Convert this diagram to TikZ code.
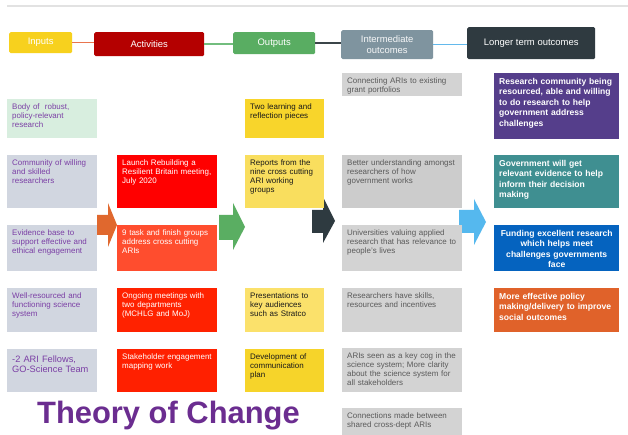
\documentclass[tikz,border=0pt]{standalone}
\usepackage{fontspec}
\setmainfont{Liberation Sans}
\definecolor{inYellow}{HTML}{F7D11E}
\definecolor{actRed}{HTML}{B40000}
\definecolor{outGreen}{HTML}{59AD62}
\definecolor{intGrey}{HTML}{7F949F}
\definecolor{longDark}{HTML}{2F3A40}
\definecolor{lineOrange}{HTML}{E9754E}
\definecolor{lineGreen}{HTML}{72BD7E}
\definecolor{lineDark}{HTML}{3B4549}
\definecolor{lineBlue}{HTML}{63B9EC}
\definecolor{topGrey}{HTML}{E2E2E2}
\definecolor{inGreenBox}{HTML}{D8EEDF}
\definecolor{inGreyBox}{HTML}{D1D6E0}
\definecolor{inText}{HTML}{7B3FA5}
\definecolor{redA}{HTML}{FF0000}
\definecolor{redB}{HTML}{FF4D2E}
\definecolor{redC}{HTML}{FF2200}
\definecolor{redD}{HTML}{FF2000}
\definecolor{yelA}{HTML}{F8D52B}
\definecolor{yelB}{HTML}{F9DE5E}
\definecolor{yelC}{HTML}{FBE16B}
\definecolor{yelD}{HTML}{F6D42A}
\definecolor{greyBox}{HTML}{D3D3D3}
\definecolor{greyBoxB}{HTML}{CCCCCC}
\definecolor{greyText}{HTML}{5A5A5A}
\definecolor{purpleBox}{HTML}{553E8B}
\definecolor{tealBox}{HTML}{3F8F91}
\definecolor{blueBox}{HTML}{0563BF}
\definecolor{orangeBox}{HTML}{E0622A}
\definecolor{arrOrange}{HTML}{E0682E}
\definecolor{arrGreen}{HTML}{5AAE62}
\definecolor{arrDark}{HTML}{2E3A40}
\definecolor{arrBlue}{HTML}{55B8EE}
\definecolor{titlePurple}{HTML}{6B2D90}
\newcommand\tocbox[8]{%
  \pgfmathsetmacro\tocw{#4-10}%
  \pgfmathsetmacro\tocd{#5-#6}%
  \node[cell, text height=#6bp, text depth=\tocd bp, text width=\tocw bp, #7] (#1) at (#2,#3) {#8};%
}
\tikzset{
  x=1bp, y=-1bp,
  hdr/.style={anchor=north west, inner sep=0pt, rounded corners=1.5bp, text=white,
    font=\fontsize{9.5}{10.5}\selectfont, align=center},
  cell/.style={anchor=north west, inner xsep=5bp, inner ysep=0pt, align=left,
    font=\fontsize{8}{9.2}\selectfont},
  inbox/.style={fill=inGreyBox, text=inText},
  actbox/.style={text=white},
  outbox/.style={text=black!90},
  imbox/.style={fill=greyBox, text=greyText},
  ltbox/.style={text=white, font=\bfseries\fontsize{8.6}{10.5}\selectfont},
  hline/.style={line width=1.5bp},
}
\begin{document}
\begin{tikzpicture}
\useasboundingbox[fill=white] (0,0) rectangle (628,435);
\draw[topGrey, line width=2.5bp] (7,6) -- (628,6);
% header row
\node[hdr, fill=inYellow, minimum width=63bp, minimum height=21bp] (inputs) at (9,32) {Inputs};
\node[hdr, fill=actRed, minimum width=110bp, minimum height=24bp] (activities) at (94,32) {Activities};
\node[hdr, fill=outGreen, minimum width=82bp, minimum height=22bp] (outputs) at (233,32) {Outputs};
\node[hdr, fill=intGrey, minimum width=92bp, minimum height=29bp, text=white!92!intGrey] (intermediate) at (341,30) {Intermediate\\outcomes};
\node[hdr, fill=longDark, minimum width=128bp, minimum height=32bp] (longer) at (467,27) {Longer term outcomes};
\draw[hline, lineOrange] (inputs.east) -- (inputs.east -| activities.west);
\draw[hline, lineGreen] (activities.east) -- (activities.east -| outputs.west);
\draw[hline, lineDark] (outputs.east) -- (outputs.east -| intermediate.west);
\draw[hline, lineBlue] (intermediate.east) -- (intermediate.east -| longer.west);
% block arrows
\fill[arrOrange] (97,215) -- (108,215) -- (108,203) -- (117,225) -- (108,247) -- (108,235) -- (97,235) -- cycle;
\fill[arrGreen] (219,215) -- (233,215) -- (233,203) -- (245,227) -- (233,250) -- (233,240) -- (219,240) -- cycle;
\fill[arrDark] (312,210) -- (323,210) -- (323,197) -- (335,221) -- (323,243) -- (323,233) -- (312,233) -- cycle;
\fill[arrBlue] (459,210) -- (474,210) -- (474,199) -- (486,222) -- (474,245) -- (474,233) -- (459,233) -- cycle;
% inputs column
\tocbox{in1}{7}{99}{90}{39}{10}{inbox, fill=inGreenBox}{Body of \ robust,\\policy-relevant\\research}
\tocbox{in2}{7}{155}{90}{53}{10}{inbox}{Community of willing\\and skilled\\researchers}
\tocbox{in3}{7}{225}{90}{46}{10}{inbox}{Evidence base to\\support effective and\\ethical engagement}
\tocbox{in4}{7}{288}{90}{44}{10}{inbox}{Well-resourced and\\functioning science\\system}
\tocbox{in5}{7}{349}{90}{43}{13}{inbox, font=\fontsize{9.3}{10.7}\selectfont}{-2 ARI Fellows,\\GO-Science Team}
% activities column
\tocbox{act1}{117}{155}{100}{53}{10}{actbox, fill=redA}{Launch Rebuilding a\\Resilient Britain meeting,\\July 2020}
\tocbox{act2}{117}{225}{100}{46}{10}{actbox, fill=redB}{9 task and finish groups\\address cross cutting\\ARIs}
\tocbox{act3}{117}{288}{100}{44}{10}{actbox, fill=redC}{Ongoing meetings with\\two departments\\(MCHLG and MoJ)}
\tocbox{act4}{117}{349}{100}{43}{10}{actbox, fill=redD}{Stakeholder engagement\\mapping work}
% outputs column
\tocbox{out1}{245}{99}{79}{39}{10}{outbox, fill=yelA}{Two learning and\\reflection pieces}
\tocbox{out2}{245}{155}{79}{53}{10}{outbox, fill=yelB}{Reports from the\\nine cross cutting\\ARI working\\groups}
\tocbox{out3}{245}{288}{79}{44}{10}{outbox, fill=yelC}{Presentations to\\key audiences\\such as Stratco}
\tocbox{out4}{245}{349}{79}{43}{10}{outbox, fill=yelD}{Development of\\communication\\plan}
% intermediate column
\tocbox{im1}{342}{73}{120}{23}{10}{imbox}{Connecting ARIs to existing\\grant portfolios}
\tocbox{im2}{342}{155}{120}{53}{10}{imbox, fill=greyBoxB}{Better understanding amongst\\researchers of how\\government works}
\tocbox{im3}{342}{225}{120}{46}{10}{imbox}{Universities valuing applied\\research that has relevance to\\people's lives}
\tocbox{im4}{342}{288}{120}{44}{10}{imbox}{Researchers have skills,\\resources and incentives}
\tocbox{im5}{342}{348}{120}{44}{10}{imbox}{ARIs seen as a key cog in the\\science system; More clarity\\about the science system for\\all stakeholders}
\tocbox{im6}{342}{408}{120}{30}{10}{imbox}{Connections made between\\shared cross-dept ARIs}
% longer term column
\tocbox{lt1}{494}{73}{125}{66}{11}{ltbox, fill=purpleBox}{Research community being\\resourced, able and willing\\to do research to help\\government address\\challenges}
\tocbox{lt2}{494}{155}{125}{53}{11}{ltbox, fill=tealBox}{Government will get\\relevant evidence to help\\inform their decision\\making}
\tocbox{lt3}{494}{225}{125}{46}{11}{ltbox, fill=blueBox, align=center}{Funding excellent research\\which helps meet\\challenges governments\\face}
\tocbox{lt4}{494}{288}{125}{44}{11}{ltbox, fill=orangeBox}{More effective policy\\making/delivery to improve\\social outcomes}
% title
\node[anchor=base west, inner sep=0pt, text=titlePurple, font=\bfseries\fontsize{31}{31}\selectfont] (title) at (37,423) {Theory of Change};
\end{tikzpicture}
\end{document}
